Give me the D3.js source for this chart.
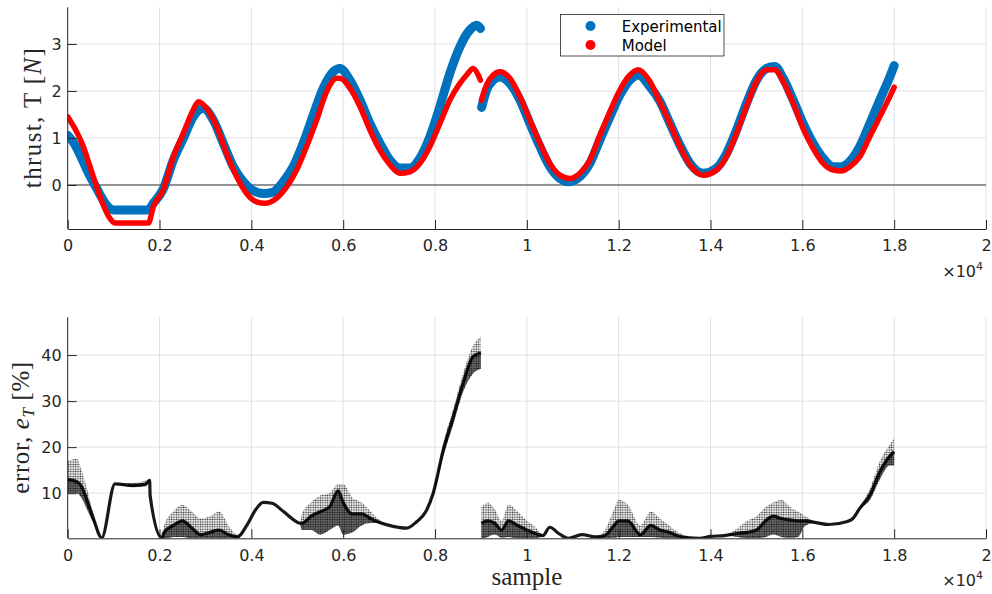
<!DOCTYPE html>
<html><head><meta charset="utf-8">
<script src="https://cdn.jsdelivr.net/npm/d3@7"></script>
<style>body{margin:0;background:#fff}svg{display:block}</style>
</head><body>
<svg id="chart" width="992" height="594"></svg>
<script>
// ---------- data ----------
const xTickValues = [0,2000,4000,6000,8000,10000,12000,14000,16000,18000,20000];
const xTickLabels = ["0","0.2","0.4","0.6","0.8","1","1.2","1.4","1.6","1.8","2"];
const thrustTicks = [0,1,2,3];
const errorTicks = [10,20,30,40];
const seriesNames = ["Experimental","Model"];

const expSample = [0,130,270,490,630,850,1000,1750,1865,2083,2300,2518,2735,2953,3171,3388,3606,3824,4041,4260,4477,4695,4912,5130,5348,5566,5783,5930,6147,6365,6582,6800,7018,7236,7453,7671,7889,8107,8324,8542,8760,8906,8990,9000,9015,9123,9268,9413,9631,9849,10066,10284,10501,10719,10900,11155,11373,11591,11809,12026,12244,12425,12681,12899,13116,13334,13552,13840,14131,14349,14567,14785,15002,15220,15401,15582,15800,16017,16235,16453,16671,16853,17034,17252,17470,17687,17905,18000];
const expThrust = [1.06,0.9,0.64,0.18,-0.07,-0.43,-0.53,-0.53,-0.39,-0.08,0.53,0.99,1.45,1.63,1.38,0.89,0.39,0.07,-0.12,-0.18,-0.15,0.07,0.39,0.89,1.49,2.06,2.41,2.48,2.23,1.81,1.31,0.89,0.53,0.36,0.36,0.57,1.03,1.67,2.38,2.94,3.30,3.40,3.33,NaN,1.65,2.02,2.23,2.30,2.16,1.81,1.31,0.82,0.39,0.14,0.07,0.18,0.46,0.96,1.45,1.91,2.23,2.34,2.09,1.78,1.31,0.85,0.46,0.25,0.36,0.67,1.17,1.74,2.23,2.48,2.52,2.27,1.81,1.31,0.89,0.57,0.39,0.39,0.50,0.82,1.31,1.81,2.30,2.54];

const modSample = [0,195,340,486,631,776,921,1030,1756,1870,2083,2300,2518,2735,2844,3026,3244,3461,3679,3897,4115,4296,4551,4768,4986,5204,5422,5640,5857,5930,6147,6365,6582,6800,7018,7236,7453,7671,7889,8107,8324,8542,8688,8832,8941,8990,9000,9010,9123,9268,9413,9631,9849,10066,10284,10501,10719,10937,11155,11373,11591,11809,12026,12244,12425,12681,12899,13116,13334,13552,13840,14131,14349,14567,14785,15002,15220,15401,15582,15800,16017,16235,16453,16671,16853,17034,17252,17470,17687,17905,18000];
const modThrust = [1.45,1.13,0.82,0.39,-0.04,-0.43,-0.71,-0.81,-0.81,-0.45,-0.1,0.6,1.1,1.6,1.77,1.63,1.24,0.67,0.18,-0.18,-0.36,-0.39,-0.28,-0.04,0.32,0.82,1.38,1.99,2.27,2.27,2.06,1.67,1.17,0.74,0.43,0.25,0.28,0.46,0.82,1.31,1.81,2.16,2.34,2.48,2.34,2.23,NaN,1.8,2.13,2.34,2.41,2.27,1.88,1.38,0.89,0.46,0.21,0.14,0.25,0.53,1.06,1.56,2.02,2.34,2.45,2.20,1.76,1.31,0.82,0.43,0.21,0.32,0.6,1.1,1.67,2.2,2.45,2.45,2.2,1.74,1.2,0.78,0.46,0.32,0.30,0.39,0.60,1.03,1.45,1.88,2.08];

const errSample = [0,200,300,420,560,740,1030,1400,1700,1785,1795,2050,2100,2300,2500,2700,2900,3100,3300,3500,3700,3900,4100,4260,4450,4700,4950,5050,5100,5300,5500,5700,5890,6000,6200,6400,6600,6700,7000,7380,7600,7800,7960,8180,8400,8610,8830,9000,9005,9010,9150,9300,9450,9600,9800,10000,10200,10350,10500,10700,10900,11200,11500,11700,11900,12000,12200,12470,12700,12900,13100,13300,13540,13760,14000,14300,14600,14800,15000,15200,15365,15550,15730,15900,16070,16300,16580,16960,17100,17250,17470,17690,17900,18000];
const errMid  = [13,12.5,11.5,8.5,4.5,0.3,12,11.7,12,12.8,9.5,0.3,1.5,3,4,2.5,1,1.5,2,1,0.5,3,6.5,8,7.8,6,4,3.5,3.5,5,6,7,10.5,8,5.5,5.5,4.5,4,3,2.4,3.8,6,10,19.4,26.7,33.9,39.7,40.5,NaN,3.5,4,3.5,2,4,3,2,1.2,0.8,2.6,1.2,0.2,1,0.5,0.8,3,4,4,1,3,2,1.5,0.7,0.3,0.2,0.6,0.8,1.3,1.5,2,4,5,4.5,4.2,4,4,3.6,3.2,3.8,4.5,6.7,9.6,14.7,18,19];
const errLow  = [10,10,9,6.5,3.5,0.3,12,11.3,11.5,12.5,9.5,0.3,0,0.5,0.5,0.2,0.2,0.2,0.2,0.2,0.3,3,6.5,8,7.8,6,4,3.5,2,2,1,2,3,1,1.5,3,3.5,3.5,3,2.4,3.8,6,9.5,18,25,32,36,37,NaN,0,0.5,1,0.3,0.5,0.2,0.2,0.2,0.8,2.6,1.2,0.2,1,0.5,0.2,0.3,0.5,0.5,0.5,0.5,0.3,0.2,0.2,0.2,0.2,0.6,0.8,0.5,0.2,0.2,0.5,1,0.5,0.3,0.5,3,3.6,3.2,3.8,4.5,6.5,8.5,13,16,16];
const errHigh = [17,17.5,15,11,5.5,0.3,12,12.2,12.8,13.2,9.5,0.3,3,6,7.5,6,4.5,5,6,3,1,3,6.5,8,7.8,6,4,3.5,5.5,8,9.5,10,12,12,9,8,6,5,3,2.4,3.8,6,10.5,21,28.5,36,42,44,NaN,7,8,6.5,4,7.5,6,4,2.5,0.8,2.6,1.2,0.2,1,0.5,2,6.5,8.5,7.5,3,6,4.5,3,1.5,0.5,0.2,0.6,0.8,2.5,4,5,7,8,8.5,7,6,5,3.6,3.2,3.8,4.5,7,11,17,20.5,22];

// ---------- layout ----------
const L = 67.7, R = 986;
const top1 = 7.3, bot1 = 229;
const top2 = 317.3, bot2 = 538.3;
const axisCol = "#262626", gridCol = "#e0e0e0";
const tickFont = "DejaVu Sans, Noto Sans, sans-serif";
const serif = "Liberation Serif, DejaVu Serif, serif";

const svg = d3.select("#chart");
const defs = svg.append("defs");
defs.append("clipPath").attr("id","clip1").append("rect").attr("x",L).attr("y",top1).attr("width",R-L).attr("height",bot1-top1);
defs.append("clipPath").attr("id","clip2").append("rect").attr("x",L).attr("y",top2).attr("width",R-L).attr("height",bot2-top2);
const pat = defs.append("pattern").attr("id","dots").attr("patternUnits","userSpaceOnUse").attr("width",2.4).attr("height",2.4);
pat.append("circle").attr("cx",1.2).attr("cy",1.2).attr("r",0.85).attr("fill","#000");
const pat2 = defs.append("pattern").attr("id","dots2").attr("patternUnits","userSpaceOnUse").attr("width",1.8).attr("height",1.8);
pat2.append("circle").attr("cx",0.9).attr("cy",0.9).attr("r",0.8).attr("fill","#000");

const x = d3.scaleLinear().domain([0,20000]).range([L,R]);
const y1 = d3.scaleLinear().domain([-0.936,3.78]).range([bot1,top1]);
const y2 = d3.scaleLinear().domain([0.2,48.2]).range([bot2,top2]);

function grid(yScale, yTicks, yTop, yBot){
  const g = svg.append("g").attr("stroke",gridCol).attr("stroke-width",1);
  xTickValues.slice(1).forEach(t => g.append("line").attr("x1",x(t)).attr("x2",x(t)).attr("y1",yTop).attr("y2",yBot));
  yTicks.forEach(t => g.append("line").attr("x1",L).attr("x2",R).attr("y1",yScale(t)).attr("y2",yScale(t)));
}
grid(y1, thrustTicks, top1, bot1);
grid(y2, errorTicks, top2, bot2);

// zero line in thrust plot
svg.append("line").attr("x1",L).attr("x2",R).attr("y1",y1(0)).attr("y2",y1(0)).attr("stroke","#3a3a3a").attr("stroke-width",1);

// thrust series
const expData = expSample.map((s,i)=>({s, v:expThrust[i]}));
const modData = modSample.map((s,i)=>({s, v:modThrust[i]}));
const line1 = d3.line().defined(d=>!isNaN(d.v)).x(d=>x(d.s)).y(d=>y1(d.v)).curve(d3.curveMonotoneX);
const p1 = svg.append("g").attr("clip-path","url(#clip1)");
p1.append("path").attr("d",line1(expData)).attr("fill","none").attr("stroke","#0072BD").attr("stroke-width",9).attr("stroke-linecap","round").attr("stroke-linejoin","round");
p1.append("path").attr("d",line1(modData)).attr("fill","none").attr("stroke","#FF0000").attr("stroke-width",5.5).attr("stroke-linecap","round").attr("stroke-linejoin","round");

// error series
const errData = errSample.map((s,i)=>({s, m:errMid[i], lo:errLow[i], hi:errHigh[i]}));
const areaOuter = d3.area().defined(d=>!isNaN(d.m)).x(d=>x(d.s)).y0(d=>y2(d.lo)).y1(d=>y2(d.hi)).curve(d3.curveMonotoneX);
const areaInner = d3.area().defined(d=>!isNaN(d.m)).x(d=>x(d.s)).y0(d=>y2(d.lo)).y1(d=>y2(d.m)).curve(d3.curveMonotoneX);
const line2 = d3.line().defined(d=>!isNaN(d.m)).x(d=>x(d.s)).y(d=>y2(d.m)).curve(d3.curveMonotoneX);
const p2 = svg.append("g").attr("clip-path","url(#clip2)");
p2.append("path").attr("d",areaOuter(errData)).attr("fill","url(#dots)").attr("opacity",0.85);
p2.append("path").attr("d",areaInner(errData)).attr("fill","url(#dots2)").attr("opacity",0.85);
p2.append("path").attr("d",line2(errData)).attr("fill","none").attr("stroke","#000").attr("stroke-width",3.2).attr("stroke-linejoin","round").attr("opacity",0.9);

// axes
function styleAxis(g){
  g.select(".domain").attr("stroke",axisCol).attr("stroke-width",1);
  g.selectAll(".tick line").attr("stroke",axisCol).attr("stroke-width",1);
  g.selectAll(".tick text").attr("fill",axisCol).attr("font-family",tickFont).attr("font-size",16);
}
function xAxis(yPos){
  const g = svg.append("g").attr("transform",`translate(0,${yPos})`)
    .call(d3.axisBottom(x).tickValues(xTickValues).tickFormat((d,i)=>xTickLabels[i]).tickSizeInner(-9).tickSizeOuter(0).tickPadding(11));
  styleAxis(g);
}
function yAxis(scale, ticks, top, bot){
  const g = svg.append("g").attr("transform",`translate(${L},0)`)
    .call(d3.axisLeft(scale).tickValues(ticks).tickFormat(d3.format("d")).tickSizeInner(-9).tickSizeOuter(0).tickPadding(6));
  g.select(".domain").attr("d",`M0,${top}V${bot}`);
  styleAxis(g);
}
xAxis(bot1); yAxis(y1, thrustTicks, top1, bot1);
xAxis(bot2); yAxis(y2, errorTicks, top2, bot2);

// exponent labels
function expo(yBase){
  const t = svg.append("text").attr("x",R-3).attr("y",yBase).attr("text-anchor","end")
    .attr("font-family",tickFont).attr("font-size",16).attr("fill",axisCol);
  t.append("tspan").text("×10");
  t.append("tspan").attr("font-size",11).attr("dy",-7).text("4");
}
expo(bot1+48); expo(bot2+48);

// axis titles
const yl1 = svg.append("text").attr("transform",`translate(40.5,${(top1+bot1)/2}) rotate(-90)`)
  .attr("text-anchor","middle").attr("font-family",serif).attr("font-size",25).attr("fill","#262626")
  .attr("textLength",140).attr("lengthAdjust","spacing");
yl1.append("tspan").text("thrust, T [");
yl1.append("tspan").attr("font-style","italic").text("N");
yl1.append("tspan").text("]");

const yl2 = svg.append("text").attr("transform",`translate(28.5,${(top2+bot2)/2}) rotate(-90)`)
  .attr("text-anchor","middle").attr("font-family",serif).attr("font-size",25).attr("fill","#262626")
  .attr("textLength",132).attr("lengthAdjust","spacing");
yl2.append("tspan").text("error, ");
yl2.append("tspan").attr("font-style","italic").text("e");
yl2.append("tspan").attr("font-style","italic").attr("font-size",17).attr("dy",5).text("T");
yl2.append("tspan").attr("dy",-5).text(" [%]");

svg.append("text").attr("x",(L+R)/2).attr("y",585).attr("text-anchor","middle")
  .attr("font-family",serif).attr("font-size",25).attr("fill","#262626").text("sample");

// legend
const lg = svg.append("g");
lg.append("rect").attr("x",560.5).attr("y",14.5).attr("width",163.5).attr("height",41.5)
  .attr("fill","#fff").attr("stroke",axisCol).attr("stroke-width",0.8);
const legColors = ["#0072BD","#FF0000"];
seriesNames.forEach((n,i)=>{
  lg.append("circle").attr("cx",590.5).attr("cy",26 + i*19).attr("r",5).attr("fill",legColors[i]);
  lg.append("text").attr("x",621.7).attr("y",31.5 + i*19).attr("font-family",tickFont).attr("font-size",15).attr("fill","#000").text(n);
});
</script>
</body></html>
